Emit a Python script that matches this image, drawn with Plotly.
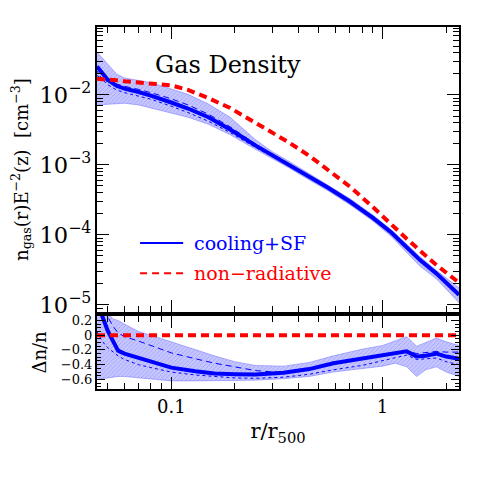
"""Gas density profile: cooling+SF vs non-radiative, with residual panel."""

import plotly.graph_objects as go

# ---- top panel data (r/r500, n_gas E^-2 in cm^-3) ----
r_top = [0.0445, 0.047, 0.05, 0.055, 0.06, 0.07, 0.08, 0.1, 0.12, 0.15, 0.19,
         0.25, 0.3, 0.36, 0.45, 0.55, 0.7, 0.9, 1.1, 1.3, 1.5, 1.8, 2.3]
n_cool = [0.0254, 0.021, 0.0165, 0.0135, 0.0123, 0.0110, 0.0098, 0.0078, 0.0064,
          0.0048, 0.0032, 0.0019, 0.00139, 0.00102, 6.8e-4, 4.75e-4, 3.0e-4,
          1.75e-4, 1.08e-4, 6.6e-5, 4.4e-5, 2.8e-5, 1.39e-5]
n_cool_hi = [0.041, 0.034, 0.027, 0.020, 0.0175, 0.0162, 0.0150, 0.0122, 0.0102,
             0.0074, 0.0048, 0.0023, 0.00155, 0.00113, 7.5e-4, 5.2e-4, 3.3e-4,
             1.92e-4, 1.18e-4, 7.4e-5, 4.9e-5, 3.1e-5, 1.75e-5]
n_cool_lo = [0.0072, 0.0073, 0.0074, 0.0076, 0.0076, 0.0072, 0.0065, 0.0056, 0.0048,
             0.0038, 0.0027, 0.00168, 0.00124, 9.1e-4, 6.1e-4, 4.3e-4, 2.7e-4,
             1.58e-4, 9.5e-5, 5.6e-5, 3.6e-5, 2.35e-5, 1.07e-5]
n_cool_dash = [0.019, 0.017, 0.0155, 0.0142, 0.0133, 0.0120, 0.0108, 0.0088, 0.0072,
               0.0053, 0.0035, 0.0020, 0.00142, 0.00104, 6.9e-4, 4.8e-4, 3.05e-4,
               1.78e-4, 1.1e-4, 6.8e-5, 4.5e-5, 2.9e-5, 1.42e-5]
n_cool_dot = [0.022, 0.017, 0.0140, 0.0118, 0.0108, 0.0097, 0.0087, 0.0069, 0.0056,
              0.0042, 0.0029, 0.00178, 0.00132, 9.8e-4, 6.6e-4, 4.6e-4, 2.9e-4,
              1.7e-4, 1.04e-4, 6.4e-5, 4.2e-5, 2.7e-5, 1.33e-5]
n_nonrad = [0.0170, 0.0169, 0.0167, 0.0162, 0.0157, 0.0151, 0.0146, 0.0137, 0.0118,
            0.0090, 0.0065, 0.0040, 0.0029, 0.0021, 0.00135, 8.5e-4, 4.9e-4,
            2.5e-4, 1.4e-4, 8.8e-5, 6.0e-5, 3.7e-5, 2.08e-5]

# ---- bottom panel data (delta n / n) ----
r_bot = [0.0445, 0.047, 0.05, 0.053, 0.056, 0.06, 0.07, 0.08, 0.1, 0.13, 0.16, 0.2,
         0.25, 0.34, 0.45, 0.585, 0.8, 1.0, 1.15, 1.3, 1.45, 1.6, 1.8, 2.0, 2.3]
dn = [0.45, 0.27, 0.06, -0.08, -0.21, -0.25, -0.31, -0.36, -0.44, -0.49, -0.52,
      -0.53, -0.535, -0.51, -0.46, -0.38, -0.32, -0.28, -0.25, -0.22, -0.29,
      -0.28, -0.25, -0.29, -0.32]
dn_dash = [0.6, 0.45, 0.25, 0.12, 0.03, -0.02, -0.08, -0.14, -0.24, -0.32, -0.38,
           -0.43, -0.48, -0.51, -0.46, -0.37, -0.31, -0.27, -0.23, -0.21, -0.25,
           -0.24, -0.22, -0.23, -0.23]
dn_dot = [0.05, -0.08, -0.17, -0.23, -0.28, -0.33, -0.40, -0.44, -0.50, -0.54,
          -0.56, -0.58, -0.585, -0.57, -0.53, -0.47, -0.41, -0.35, -0.31, -0.27,
          -0.33, -0.32, -0.31, -0.36, -0.40]
dn_hi = [0.5, 0.4, 0.3, 0.22, 0.2, 0.15, 0.05, 0.0, -0.09, -0.2, -0.28, -0.36,
         -0.41, -0.42, -0.37, -0.28, -0.19, -0.14, -0.08, -0.02, -0.15, -0.1,
         -0.04, -0.09, -0.14]
dn_lo = [-0.58, -0.59, -0.58, -0.57, -0.56, -0.56, -0.58, -0.6, -0.62, -0.62,
         -0.62, -0.62, -0.61, -0.59, -0.56, -0.5, -0.45, -0.42, -0.38, -0.43,
         -0.56, -0.47, -0.43, -0.5, -0.56]
dn_zero = [0.0] * len(r_bot)
dn_ticks = [-0.6, -0.4, -0.2, 0.0, 0.2]
dn_ticktext = ["−0.6", "−0.4", "−0.2", "0", "0.2"]

BLUE = "#0000ff"
RED = "#ff0000"
BAND = "rgba(150,150,255,0.55)"
SERIF = "DejaVu Serif"

fig = go.Figure()


def band(x, lo, hi, xa, ya):
    fig.add_trace(go.Scatter(x=x, y=lo, xaxis=xa, yaxis=ya, mode="lines",
                             line=dict(color="rgba(90,90,255,0.7)", width=0.6),
                             showlegend=False, hoverinfo="skip"))
    fig.add_trace(go.Scatter(x=x, y=hi, xaxis=xa, yaxis=ya, mode="lines",
                             line=dict(color="rgba(90,90,255,0.7)", width=0.6),
                             fill="tonexty", fillcolor=BAND,
                             fillpattern=dict(shape="/", size=3, solidity=0.25,
                                              fgcolor="rgba(60,60,255,0.6)",
                                              bgcolor=BAND),
                             showlegend=False, hoverinfo="skip"))


# top panel
band(r_top, n_cool_lo, n_cool_hi, "x", "y")
fig.add_trace(go.Scatter(x=r_top, y=n_cool_dash, mode="lines",
                         line=dict(color=BLUE, width=1, dash="6px,4px"), showlegend=False))
fig.add_trace(go.Scatter(x=r_top, y=n_cool_dot, mode="lines",
                         line=dict(color=BLUE, width=1, dash="dot"), showlegend=False))
fig.add_trace(go.Scatter(x=r_top, y=n_cool, mode="lines",
                         line=dict(color=BLUE, width=4), showlegend=False))
fig.add_trace(go.Scatter(x=r_top, y=n_nonrad, mode="lines",
                         line=dict(color=RED, width=4, dash="8px,5px"), showlegend=False))

# bottom panel
band(r_bot, dn_lo, dn_hi, "x2", "y2")
fig.add_trace(go.Scatter(x=r_bot, y=dn_dash, xaxis="x2", yaxis="y2", mode="lines",
                         line=dict(color=BLUE, width=1, dash="6px,4px"), showlegend=False))
fig.add_trace(go.Scatter(x=r_bot, y=dn_dot, xaxis="x2", yaxis="y2", mode="lines",
                         line=dict(color=BLUE, width=1, dash="dot"), showlegend=False))
fig.add_trace(go.Scatter(x=r_bot, y=dn, xaxis="x2", yaxis="y2", mode="lines",
                         line=dict(color=BLUE, width=4), showlegend=False))
fig.add_trace(go.Scatter(x=r_bot, y=dn_zero, xaxis="x2", yaxis="y2", mode="lines",
                         line=dict(color=RED, width=4, dash="8px,5px"), showlegend=False))

axis_common = dict(showline=True, linecolor="black", linewidth=2, mirror="ticks",
                   ticks="inside", tickcolor="black", tickwidth=1, showgrid=False,
                   zeroline=False, automargin=False)
xr = [-1.3516, 0.3617]

# the page body adds an 8px offset, so margins are trimmed on the left/top
fig.update_layout(
    width=485, height=485,
    paper_bgcolor="white", plot_bgcolor="white",
    margin=dict(l=89, r=34, t=19, b=104),
    font=dict(family=SERIF, color="black"),
    xaxis=dict(type="log", range=xr, anchor="y", showticklabels=False,
               dtick=1, ticklen=12,
               minor=dict(ticks="inside", ticklen=6, tickcolor="black", showgrid=False),
               **axis_common),
    yaxis=dict(type="log", domain=[0.2127, 1], range=[-5.102, -1.029], dtick=1,
               exponentformat="power", ticklen=12, tickfont=dict(size=18),
               minor=dict(ticks="inside", ticklen=6, tickcolor="black", showgrid=False),
               title=dict(text="n<sub>gas</sub>(r)E<sup>−2</sup>(z)  [cm<sup>−3</sup>]",
                          font=dict(size=18), standoff=8),
               **axis_common),
    xaxis2=dict(type="log", range=xr, anchor="y2", matches="x", dtick=1, ticklen=12,
                tickfont=dict(size=18),
                minor=dict(ticks="inside", ticklen=6, tickcolor="black", showgrid=False),
                title=dict(text="r/r<sub>500</sub>", font=dict(size=21), standoff=8),
                **axis_common),
    yaxis2=dict(domain=[0, 0.2017], range=[-0.73, 0.26], tickmode="array",
                tickvals=dn_ticks, ticktext=dn_ticktext, ticklen=8,
                tickfont=dict(size=13),
                minor=dict(ticks="inside", ticklen=4, dtick=0.05, tickcolor="black",
                           showgrid=False),
                title=dict(text="Δn/n", font=dict(size=18), standoff=10),
                **axis_common),
)

# panel label and legend
fig.add_annotation(x=0.363, y=0.895, xref="paper", yref="paper", text="Gas Density",
                   xanchor="center", yanchor="middle",
                   showarrow=False, font=dict(size=24, family=SERIF))
fig.add_shape(type="line", xref="paper", yref="paper", x0=0.119, x1=0.238,
              y0=0.403, y1=0.403, line=dict(color=BLUE, width=2))
fig.add_shape(type="line", xref="paper", yref="paper", x0=0.119, x1=0.238,
              y0=0.320, y1=0.320, line=dict(color=RED, width=2, dash="7px,5px"))
fig.add_annotation(x=0.262, y=0.403, xref="paper", yref="paper", text="cooling+SF",
                   xanchor="left", yanchor="middle", showarrow=False,
                   font=dict(size=19, color=BLUE))
fig.add_annotation(x=0.262, y=0.320, xref="paper", yref="paper", text="non−radiative",
                   xanchor="left", yanchor="middle", showarrow=False,
                   font=dict(size=19, color=RED))

fig.write_html("out.html")
